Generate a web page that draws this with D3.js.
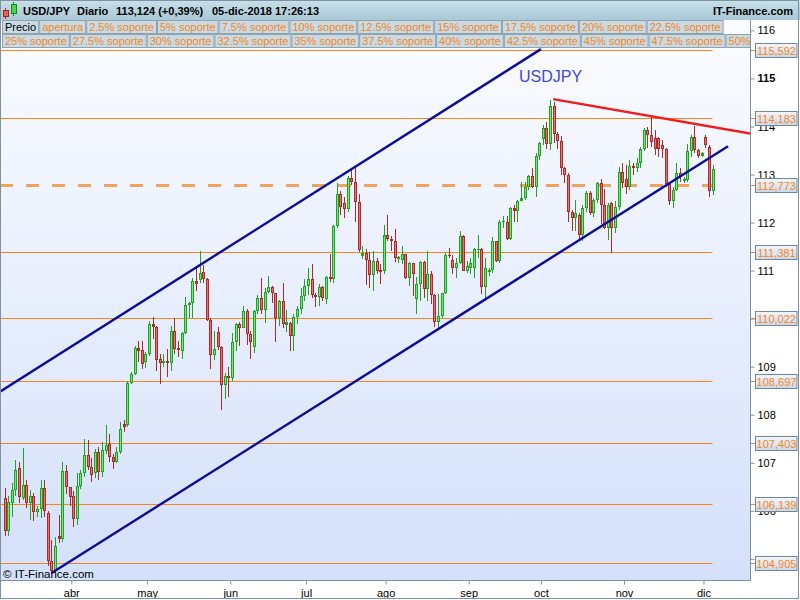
<!DOCTYPE html>
<html><head><meta charset="utf-8">
<script src="https://cdn.jsdelivr.net/npm/d3@7"></script>
<style>body{margin:0;background:#fff}svg{display:block;font-family:"Liberation Sans",Arial,sans-serif}</style>
</head><body><div id="c"></div>
<script>
// ---------- DATA ----------
const openP = [106.26,105.57,106.16,106.43,106.90,106.26,106.54,106.16,106.31,105.97,106.03,106.47,105.95,104.95,104.74,105.47,105.42,106.83,106.49,
106.30,105.84,106.52,106.78,107.16,106.92,106.78,107.23,106.80,107.25,107.40,107.11,107.02,107.22,107.80,107.78,108.66,108.85,109.39,109.35,109.10,
109.26,109.88,109.83,109.16,109.08,109.12,109.07,109.75,109.39,109.33,109.70,110.29,110.32,110.78,110.80,110.97,110.82,109.97,109.24,109.72,109.42,108.62,108.81,
108.76,109.52,109.88,109.81,110.16,109.68,109.40,110.16,110.43,110.17,110.55,110.65,110.53,110.02,110.37,109.87,109.90,109.64,110.04,110.21,110.48,
110.69,110.82,110.49,110.46,110.66,110.40,110.86,110.82,111.92,112.59,112.40,112.29,112.92,112.85,112.43,111.31,111.36,111.23,110.91,111.20,111.02,110.99,
111.75,111.65,111.61,111.24,111.23,111.35,110.85,111.15,110.40,110.73,111.18,110.61,110.92,110.49,109.92,110.06,110.53,111.33,111.22,111.06,111.15,111.71,111.00,
111.06,111.06,111.44,111.45,110.65,110.97,111.02,111.61,111.20,112.02,112.02,111.66,112.31,112.25,112.45,112.51,112.75,112.96,112.73,113.39,
113.73,113.97,113.63,114.43,113.85,113.69,113.13,112.99,112.23,112.10,112.16,111.75,112.30,112.61,112.20,112.46,112.82,112.37,111.89,112.40,111.89,112.32,113.06,
112.90,112.75,113.18,113.13,113.23,113.54,113.92,113.82,113.77,113.75,113.62,113.53,112.80,112.44,112.68,113.03,112.88,112.88,113.49,113.78,113.51,113.39,
113.78,113.58,112.65];
const highP = [106.47,106.30,106.58,107.06,107.02,107.30,106.64,106.43,106.37,106.09,106.65,106.65,106.00,105.40,105.45,105.92,107.02,106.95,106.50,
106.41,106.78,106.85,107.50,107.48,107.09,107.28,107.33,107.43,107.78,107.60,107.19,107.33,107.85,107.88,108.71,108.88,109.44,109.54,109.54,109.30,
109.95,110.04,109.85,109.26,109.26,109.37,109.85,110.01,109.54,109.72,110.45,110.35,110.84,111.06,111.40,111.12,110.85,110.02,109.75,109.83,109.44,108.86,109.00,
109.71,109.90,109.92,110.27,110.21,109.75,110.17,110.49,110.85,110.64,110.89,110.68,110.54,110.39,110.75,110.19,109.92,110.09,110.26,110.64,110.83,
111.06,111.13,110.54,110.72,110.68,110.88,111.35,111.94,112.82,112.65,112.54,112.96,113.13,113.16,112.59,111.51,111.45,111.38,111.40,111.27,111.13,111.94,
112.15,111.71,111.87,111.30,111.51,111.35,111.18,111.16,110.86,111.19,111.20,111.40,110.99,110.51,110.51,110.54,111.37,111.47,111.33,111.27,111.82,111.75,111.20,
111.27,111.47,111.75,111.47,111.27,111.06,111.69,111.62,112.06,112.13,112.13,112.33,112.37,112.47,112.85,112.85,112.99,113.13,113.44,113.68,
114.03,114.10,114.55,114.50,113.89,113.80,113.16,113.03,112.26,112.47,112.20,112.37,112.66,112.65,112.52,112.85,112.90,112.70,112.40,112.42,112.44,113.16,113.23,
113.20,113.30,113.25,113.35,113.58,113.96,113.99,114.20,113.92,113.78,113.72,113.55,112.82,112.75,113.23,113.13,112.95,113.64,113.82,114.02,113.54,113.47,
113.82,113.61,113.20];
const lowP = [105.47,105.47,105.88,106.30,106.16,106.22,106.05,105.81,105.78,105.88,105.85,105.88,104.85,104.68,104.70,105.33,105.36,106.36,106.09,
105.66,105.71,106.46,106.71,106.85,106.61,106.68,106.64,106.71,107.19,107.02,106.88,106.99,107.19,107.64,107.74,108.64,108.82,109.09,108.95,108.98,
109.23,109.57,108.92,108.64,108.99,108.78,108.92,109.26,109.20,109.16,109.68,110.02,110.02,110.58,110.75,110.75,109.95,108.95,109.13,109.35,108.10,108.33,108.37,
108.71,109.33,109.44,109.81,109.46,109.17,109.28,110.09,110.09,109.91,110.54,110.33,109.52,109.85,109.80,109.72,109.33,109.33,109.88,110.09,110.37,
110.50,110.44,110.25,110.27,110.37,110.30,110.77,110.75,111.89,112.16,112.09,112.23,112.78,112.02,111.39,111.24,110.71,110.64,110.58,110.92,110.73,110.92,
111.61,111.40,111.18,111.16,111.13,110.82,110.68,110.47,110.09,110.37,110.44,110.37,110.30,109.82,109.78,110.02,110.51,111.27,110.92,110.85,111.13,110.99,110.95,
110.92,110.85,111.27,110.51,110.40,110.89,110.95,111.18,111.16,111.89,111.64,111.64,112.02,112.02,112.44,112.47,112.68,112.71,112.54,113.30,
113.62,113.54,113.51,113.65,113.54,113.00,112.82,112.02,111.82,111.82,111.61,111.61,112.23,112.16,112.12,112.40,111.98,111.87,111.64,111.37,111.78,112.27,112.72,
112.60,112.68,113.00,113.06,113.13,113.50,113.55,113.58,113.40,113.37,113.35,112.75,112.37,112.30,112.65,112.85,112.82,112.85,113.37,113.44,113.34,113.37,
113.55,112.54,112.58];
const closeP = [105.57,106.19,106.43,106.85,106.28,106.54,106.16,106.31,105.97,106.04,106.47,105.99,104.95,104.74,105.26,105.42,106.83,106.49,106.28,
105.83,106.52,106.78,107.16,106.92,106.74,107.23,106.80,107.26,107.37,107.11,107.02,107.22,107.70,107.74,108.66,108.85,109.39,109.33,109.06,109.26,
109.88,109.82,109.14,109.07,109.12,109.07,109.75,109.37,109.35,109.70,110.29,110.32,110.78,110.73,110.95,110.82,109.97,109.24,109.36,109.42,108.62,108.81,108.76,
109.52,109.88,109.81,110.16,109.68,109.51,110.16,110.43,110.17,110.55,110.65,110.53,110.02,110.37,109.89,109.93,109.64,110.04,110.21,110.48,110.68,
110.82,110.49,110.46,110.66,110.44,110.86,110.82,111.92,112.59,112.33,112.29,112.92,112.85,112.43,111.42,111.36,111.23,110.91,111.20,111.00,110.98,111.75,
111.65,111.61,111.27,111.28,111.35,110.85,111.15,110.92,110.73,111.18,110.61,110.92,110.49,109.92,110.06,110.53,111.33,111.30,111.06,111.15,111.71,111.00,111.09,
111.16,111.44,111.45,110.65,111.06,111.02,111.61,111.20,112.02,112.04,111.66,112.31,112.25,112.45,112.51,112.75,112.96,112.73,113.39,113.66,
113.97,113.63,114.43,113.85,113.69,113.13,112.99,112.23,112.09,112.20,111.75,112.30,112.61,112.20,112.46,112.82,112.37,111.89,112.37,111.89,112.32,113.06,112.82,
112.75,113.18,113.13,113.25,113.54,113.92,113.82,113.67,113.54,113.53,113.53,112.80,112.44,112.68,113.03,112.96,112.90,113.49,113.78,113.51,113.39,113.45,
113.61,112.65,113.12];

const monthLabels = ["abr","may","jun","jul","ago","sep","oct","nov","dic"];
const monthStartIdx = [19,40,63,84,106,129,149,172,194];
const yTickValues = [105,106,107,108,109,110,111,112,113,114,115,116];
const yHiddenLabels = [105,110]; // covered by level boxes in the reference
const supportLevels = [115.592,114.183,111.381,110.022,108.697,107.403,106.139,104.905];
const openLevel = 112.773;
// trend lines: [index, price] endpoints
const channelUpper = [[-1.25,108.48],[148.5,115.61]];
const channelLower = [[13.15,104.71],[200.3,113.59]];
const resistance = [[151.9,114.57],[215,113.74]];
const legendRow1 = ["Precio","apertura","2.5% soporte","5% soporte","7.5% soporte","10% soporte","12.5% soporte","15% soporte","17.5% soporte","20% soporte","22.5% soporte"];
const legendRow2 = ["25% soporte","27.5% soporte","30% soporte","32.5% soporte","35% soporte","37.5% soporte","40% soporte","42.5% soporte","45% soporte","47.5% soporte","50% soporte"];
const headerTexts = ["USD/JPY","Diario","113,124 (+0,39%)","05-dic-2018 17:26:13"];

// ---------- LAYOUT ----------
const W=800,H=600, pL=0,pR=750,pT=20,pB=580;
const ORANGE="#f5861f", AXC="#7d93a2";
const svg=d3.select("#c").append("svg").attr("width",W).attr("height",H);
const defs=svg.append("defs");
const bg=defs.append("linearGradient").attr("id","bg").attr("x1",0).attr("x2",0).attr("y1",0).attr("y2",1);
bg.append("stop").attr("offset","0%").attr("stop-color","#fbfcff");
bg.append("stop").attr("offset","100%").attr("stop-color","#d4e0fa");
const hg=defs.append("linearGradient").attr("id","hg").attr("x1",0).attr("x2",0).attr("y1",0).attr("y2",1);
hg.append("stop").attr("offset","0%").attr("stop-color","#c8e0ea");
hg.append("stop").attr("offset","100%").attr("stop-color","#a9c8d5");
const lg=defs.append("linearGradient").attr("id","lg").attr("x1",0).attr("x2",0).attr("y1",0).attr("y2",1);
lg.append("stop").attr("offset","0%").attr("stop-color","#f3f6fb");
lg.append("stop").attr("offset","100%").attr("stop-color","#cbd7e6");
defs.append("clipPath").attr("id","clip").append("rect").attr("x",pL).attr("y",pT).attr("width",pR-pL).attr("height",pB-pT);

const n=closeP.length;
const x=d3.scaleLinear().domain([0,n-1]).range([4.5,712.5]);
const y=d3.scaleLinear().domain([104,116]).range([606.9,30.4]);

svg.append("rect").attr("x",pL).attr("y",pT).attr("width",pR-pL).attr("height",pB-pT).attr("fill","url(#bg)");
const plot=svg.append("g").attr("clip-path","url(#clip)");

// support lines
plot.selectAll(".lvl").data(supportLevels).join("line")
  .attr("x1",pL).attr("x2",x(n-1)).attr("y1",d=>Math.round(y(d))+0.5).attr("y2",d=>Math.round(y(d))+0.5)
  .attr("stroke",ORANGE).attr("stroke-width",1);
plot.append("line").attr("x1",pL).attr("x2",x(n-1)).attr("y1",y(openLevel)).attr("y2",y(openLevel))
  .attr("stroke","#f39a4c").attr("stroke-width",3).attr("stroke-dasharray","13,13").attr("opacity",0.9);

// candles
const idx=d3.range(n);
const cg=plot.append("g").attr("shape-rendering","crispEdges");
const up=i=>closeP[i]>=openP[i];
cg.selectAll(".wick").data(idx).join("rect")
  .attr("x",i=>Math.round(x(i))).attr("width",1)
  .attr("y",i=>y(highP[i])).attr("height",i=>Math.max(1,y(lowP[i])-y(highP[i])))
  .attr("fill",i=>up(i)?"#1ea41e":"#ad2a2a");
cg.selectAll(".body").data(idx).join("rect")
  .attr("x",i=>Math.round(x(i))-1).attr("width",3)
  .attr("y",i=>y(Math.max(openP[i],closeP[i]))).attr("height",i=>Math.max(1.5,Math.abs(y(openP[i])-y(closeP[i]))))
  .attr("fill",i=>up(i)?"#1ea41e":"#ad2a2a");
cg.selectAll(".inner").data(idx.filter(i=>Math.abs(y(openP[i])-y(closeP[i]))>3)).join("rect")
  .attr("x",i=>Math.round(x(i))).attr("width",1)
  .attr("y",i=>y(Math.max(openP[i],closeP[i]))+1).attr("height",i=>Math.abs(y(openP[i])-y(closeP[i]))-2)
  .attr("fill",i=>up(i)?"#7ee07e":"#e27474");

// trend lines
const ln=d3.line().x(d=>x(d[0])).y(d=>y(d[1]));
plot.append("path").attr("d",ln(channelUpper)).attr("stroke","#0c0c9a").attr("stroke-width",2.4).attr("fill","none");
plot.append("path").attr("d",ln(channelLower)).attr("stroke","#0c0c9a").attr("stroke-width",2.4).attr("fill","none");
plot.append("path").attr("d",ln(resistance)).attr("stroke","#f01c1c").attr("stroke-width",2.4).attr("fill","none");

plot.append("text").attr("x",519).attr("y",82).attr("font-size",16).attr("fill","#4646dc").text("USDJPY");
plot.append("text").attr("x",3).attr("y",578).attr("font-size",11.5).attr("fill","#000").text("© IT-Finance.com");

// header
svg.append("rect").attr("x",0).attr("y",0).attr("width",W).attr("height",20).attr("fill","url(#hg)");
const ic=svg.append("g").attr("shape-rendering","crispEdges");
ic.append("rect").attr("x",5).attr("y",8).attr("width",1).attr("height",11).attr("fill","#b02a2a");
ic.append("rect").attr("x",3).attr("y",10).attr("width",5).attr("height",6).attr("fill","#e06060").attr("stroke","#a02020");
ic.append("rect").attr("x",13).attr("y",2).attr("width",1).attr("height",14).attr("fill","#109010");
ic.append("rect").attr("x",11).attr("y",4).attr("width",5).attr("height",9).attr("fill","#50d050").attr("stroke","#109010");
const hx=[23,77,116,212];
svg.selectAll(".ht").data(headerTexts).join("text").attr("x",(d,i)=>hx[i]).attr("y",15)
  .attr("font-size",11).attr("font-weight","bold").attr("fill","#000").text(d=>d);
svg.append("text").attr("x",793).attr("y",15).attr("text-anchor","end").attr("font-size",11).attr("font-weight","bold").text("IT-Finance.com");

// legend rows
function legendRow(items,y0){
  let cx=2;
  const g=svg.append("g");
  items.forEach((t,i)=>{
    const gg=g.append("g");
    const r=gg.append("rect").attr("y",y0+0.5).attr("height",13).attr("fill","#c9dae3").attr("stroke","#8ea3b1");
    const tx=gg.append("text").attr("y",y0+11).attr("font-size",11).attr("fill",(t==="Precio")?"#000":ORANGE).text(t);
    const w=tx.node().getComputedTextLength()+5;
    r.attr("x",cx+0.5).attr("width",w);
    tx.attr("x",cx+3);
    cx+=w+1;
  });
  return g;
}
defs.append("clipPath").attr("id","lgclip").append("rect").attr("x",0).attr("y",20).attr("width",pR).attr("height",30);
legendRow(legendRow1,20).attr("clip-path","url(#lgclip)");
legendRow(legendRow2,34).attr("clip-path","url(#lgclip)");

// right panel
svg.append("rect").attr("x",pR+1).attr("y",20).attr("width",W-pR-1).attr("height",H-20).attr("fill","#fff");
svg.append("rect").attr("x",0).attr("y",pB+1).attr("width",W).attr("height",H-pB-1).attr("fill","#fff");

const ya=svg.append("g").attr("transform",`translate(${pR+0.5},0)`)
  .call(d3.axisRight(y).tickValues(yTickValues).tickSize(4).tickPadding(3)
    .tickFormat(d=>yHiddenLabels.includes(d)?"":d3.format("d")(d)));
ya.select(".domain").remove();
ya.selectAll(".tick line").attr("stroke",AXC);
ya.selectAll(".tick text").attr("font-size",11).attr("font-family","Liberation Sans, Arial, sans-serif").attr("fill","#000")
  .attr("font-weight",d=>d===115?"bold":"normal");

const xa=svg.append("g").attr("transform",`translate(0,${pB+0.5})`)
  .call(d3.axisBottom(x).tickValues(monthStartIdx.map(i=>i-0.5)).tickSize(4).tickPadding(5).tickFormat((d,i)=>monthLabels[i]));
xa.select(".domain").remove();
xa.selectAll(".tick line").attr("stroke",AXC);
xa.selectAll(".tick text").attr("font-size",11).attr("font-family","Liberation Sans, Arial, sans-serif").attr("fill","#000");

svg.append("line").attr("x1",pR+0.5).attr("x2",pR+0.5).attr("y1",20).attr("y2",pB+0.5).attr("stroke",AXC);
svg.append("line").attr("x1",0).attr("x2",pR+0.5).attr("y1",pB+0.5).attr("y2",pB+0.5).attr("stroke",AXC);
svg.append("rect").attr("x",0.5).attr("y",0.5).attr("width",798).attr("height",598).attr("fill","none").attr("stroke",AXC);

// level labels
const fmt=v=>d3.format(".3f")(v).replace(".",",");
const allLv=supportLevels.concat([openLevel]);
const lb=svg.selectAll(".lb").data(allLv).join("g").attr("transform",d=>`translate(0,${Math.round(y(d))})`);
lb.append("line").attr("x1",pR+1).attr("x2",756).attr("y1",0.5).attr("y2",0.5).attr("stroke",ORANGE);
lb.append("rect").attr("x",755.5).attr("y",-6.5).attr("width",41.5).attr("height",14).attr("fill","url(#lg)").attr("stroke","#6f8798");
lb.append("text").attr("x",776.5).attr("y",4.5).attr("text-anchor","middle").attr("font-size",11).attr("fill",ORANGE).text(d=>fmt(d));
</script></body></html>
